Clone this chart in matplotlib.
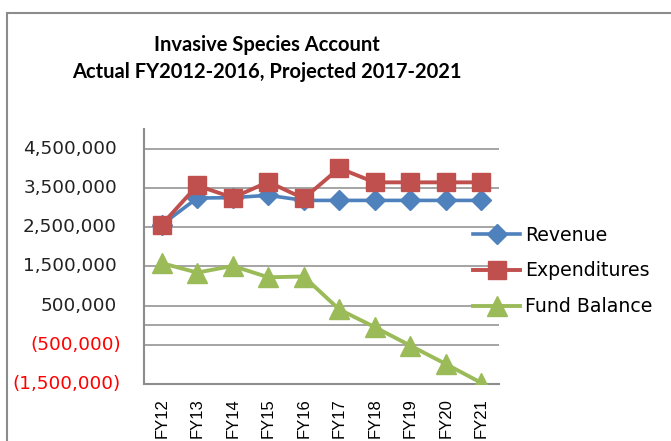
import matplotlib
matplotlib.use('Agg')
import matplotlib.pyplot as plt
from matplotlib.patches import Rectangle

years = ['FY12', 'FY13', 'FY14', 'FY15', 'FY16', 'FY17', 'FY18', 'FY19', 'FY20', 'FY21']
revenue = [2560000, 3240000, 3250000, 3310000, 3180000, 3180000, 3180000, 3180000, 3180000, 3180000]
expenditures = [2560000, 3560000, 3250000, 3650000, 3230000, 4000000, 3640000, 3640000, 3640000, 3640000]
fund_balance = [1580000, 1340000, 1510000, 1220000, 1240000, 400000, -50000, -520000, -990000, -1470000]
y_ticks = [-1500000, -500000, 500000, 1500000, 2500000, 3500000, 4500000]

W, H = 671, 441
fig = plt.figure(figsize=(W / 100, H / 100), dpi=100)
ax = fig.add_axes([144 / W, 1 - 384 / H, 355 / W, 255 / H])

grid_c = '#8c8c8c'
x = list(range(len(years)))
ax.plot(x, revenue, color='#4f81bd', lw=2.6, marker='D', ms=10, label='Revenue', zorder=3)
ax.plot(x, expenditures, color='#c0504d', lw=2.8, marker='s', ms=12.5, label='Expenditures', zorder=4)
ax.plot(x, fund_balance, color='#9bbb59', lw=2.8, marker='^', ms=14.5, label='Fund Balance', zorder=5)

ax.set_xlim(-0.5, len(years) - 0.5)
ax.set_ylim(-1500000, 5000000)
ax.set_yticks(y_ticks)
ax.set_yticklabels([])
ax.tick_params(axis='y', length=0)
ax.grid(axis='y', color=grid_c, lw=1.1)
ax.axhline(0, color=grid_c, lw=1.1, zorder=1)
ax.set_axisbelow(True)

# y labels: Excel style, negatives red in parentheses
ytr = ax.get_yaxis_transform()
for v in y_ticks:
    if v < 0:
        ax.text(-23 / 355, v, '({:,})'.format(-v), transform=ytr, ha='right', va='center',
                color='#ff0000', fontsize=13.3, family='DejaVu Sans')
    else:
        ax.text(-27 / 355, v, '{:,}'.format(v), transform=ytr, ha='right', va='center',
                color='#222222', fontsize=13.3, family='DejaVu Sans')

ax.set_xticks(x)
ax.set_xticklabels(years, rotation=90, fontsize=12, family='Liberation Sans', va='top')
ax.tick_params(axis='x', length=0, pad=10)

for s in ['top', 'right']:
    ax.spines[s].set_visible(False)
for s in ['left', 'bottom']:
    ax.spines[s].set_color(grid_c)
    ax.spines[s].set_linewidth(1.5)

fig.legend(loc='center left', bbox_to_anchor=(473 / W, 1 - 271 / H), frameon=False,
           prop={'family': 'DejaVu Sans', 'size': 13.6}, handlelength=2.5, handletextpad=0.25,
           labelspacing=0.9, borderpad=0, borderaxespad=0)

fig.text(267 / W, 1 - 45 / H, 'Invasive Species Account', ha='center', va='center',
         fontsize=14.5, fontweight='bold', family='Lato')
fig.text(267 / W, 1 - 72 / H, 'Actual FY2012-2016, Projected 2017-2021', ha='center', va='center',
         fontsize=14.5, fontweight='bold', family='Lato')

fig.patches.append(Rectangle((7 / W, -0.1), 1.2, 1.1 - 13 / H, transform=fig.transFigure,
                             fill=False, edgecolor='#8c8c8c', lw=1.5))

fig.savefig('out.png', dpi=100)
